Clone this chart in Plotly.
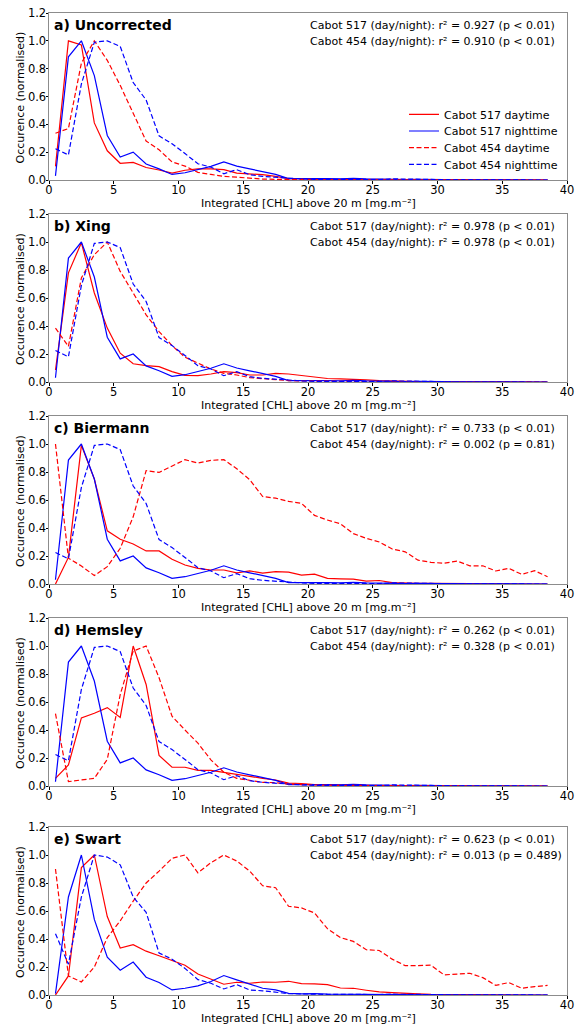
import plotly.graph_objects as go

# bin centres of integrated CHL (mg m-2)
chl_bins = [0.5 + i for i in range(39)]

# ---- nighttime profiles (not corrected) ----
night517 = [0.03, 0.885, 1.0, 0.75, 0.32, 0.165, 0.20, 0.115, 0.08, 0.04, 0.052, 0.074, 0.098, 0.13, 0.10,
            0.08, 0.06, 0.04, 0.01, 0.01, 0.015, 0.01, 0.008, 0.012, 0.008, 0.005, 0.004, 0.003, 0.005, 0.003,
            0.002, 0.001, 0.001, 0.001, 0.0, 0.0, 0.0, 0.0, 0.0]
night454 = [0.225, 0.18, 0.69, 0.99, 1.0, 0.96, 0.70, 0.575, 0.317, 0.26, 0.19, 0.117, 0.093, 0.045, 0.074,
            0.038, 0.026, 0.02, 0.01, 0.008, 0.005, 0.004, 0.006, 0.003, 0.005, 0.003, 0.008, 0.005, 0.003, 0.004,
            0.002, 0.001, 0.001, 0.0, 0.0, 0.0, 0.0, 0.0, 0.0]
night517_swart = [0.01, 0.70, 1.0, 0.54, 0.27, 0.177, 0.235, 0.127, 0.089, 0.036, 0.048, 0.065, 0.096, 0.139, 0.108,
                  0.079, 0.048, 0.036, 0.012, 0.008, 0.01, 0.006, 0.005, 0.006, 0.004, 0.003, 0.002, 0.002, 0.001, 0.001,
                  0.001, 0.0, 0.0, 0.0, 0.0, 0.0, 0.0, 0.0, 0.0]
night454_swart = [0.438, 0.22, 0.70, 1.0, 0.985, 0.93, 0.70, 0.59, 0.30, 0.256, 0.19, 0.11, 0.084, 0.043, 0.074,
                  0.036, 0.03, 0.02, 0.01, 0.008, 0.005, 0.004, 0.005, 0.003, 0.004, 0.003, 0.006, 0.004, 0.003, 0.003,
                  0.002, 0.001, 0.001, 0.0, 0.0, 0.0, 0.0, 0.0, 0.0]

# ---- daytime profiles per correction method ----
day517_uncorr = [0.098, 1.0, 0.97, 0.41, 0.21, 0.12, 0.126, 0.09, 0.072, 0.05, 0.07, 0.08, 0.08, 0.074, 0.05,
                 0.045, 0.038, 0.026, 0.01, 0.01, 0.006, 0.005, 0.004, 0.004, 0.003, 0.002, 0.002, 0.001, 0.001, 0.001,
                 0.0, 0.0, 0.0, 0.0, 0.0, 0.0, 0.0, 0.0, 0.0]
day454_uncorr = [0.336, 0.37, 0.84, 1.0, 0.86, 0.68, 0.48, 0.28, 0.217, 0.13, 0.10, 0.055, 0.04, 0.026, 0.02,
                 0.012, 0.007, 0.005, 0.004, 0.003, 0.003, 0.002, 0.002, 0.002, 0.001, 0.001, 0.001, 0.001, 0.0, 0.0,
                 0.0, 0.0, 0.0, 0.0, 0.0, 0.0, 0.0, 0.0, 0.0]
day517_xing = [0.086, 0.78, 0.995, 0.636, 0.385, 0.206, 0.13, 0.117, 0.11, 0.074, 0.048, 0.045, 0.057, 0.074, 0.067,
               0.05, 0.05, 0.062, 0.057, 0.045, 0.035, 0.025, 0.022, 0.02, 0.015, 0.01, 0.006, 0.004, 0.003, 0.002,
               0.002, 0.001, 0.001, 0.0, 0.0, 0.0, 0.0, 0.0, 0.0]
day454_xing = [0.385, 0.254, 0.744, 0.91, 1.0, 0.79, 0.636, 0.48, 0.36, 0.26, 0.177, 0.134, 0.093, 0.062, 0.05,
               0.031, 0.024, 0.014, 0.01, 0.008, 0.006, 0.005, 0.004, 0.004, 0.003, 0.002, 0.002, 0.001, 0.001, 0.001,
               0.0, 0.0, 0.0, 0.0, 0.0, 0.0, 0.0, 0.0, 0.0]
day517_biermann = [0.0, 0.19, 0.99, 0.75, 0.38, 0.32, 0.286, 0.236, 0.236, 0.177, 0.136, 0.112, 0.10, 0.10, 0.08,
                   0.093, 0.078, 0.088, 0.085, 0.064, 0.07, 0.04, 0.037, 0.035, 0.02, 0.025, 0.01, 0.006, 0.005, 0.004,
                   0.003, 0.002, 0.002, 0.001, 0.001, 0.0, 0.0, 0.0, 0.0]
day454_biermann = [1.0, 0.184, 0.129, 0.06, 0.124, 0.255, 0.48, 0.81, 0.797, 0.84, 0.888, 0.864, 0.883, 0.888, 0.823,
                   0.745, 0.625, 0.613, 0.59, 0.576, 0.49, 0.457, 0.43, 0.36, 0.326, 0.30, 0.25, 0.23, 0.17, 0.155,
                   0.148, 0.164, 0.13, 0.13, 0.093, 0.112, 0.069, 0.095, 0.052]
day517_hemsley = [0.055, 0.15, 0.486, 0.52, 0.56, 0.49, 1.0, 0.725, 0.218, 0.134, 0.134, 0.112, 0.112, 0.098, 0.079,
                  0.067, 0.055, 0.043, 0.02, 0.018, 0.01, 0.008, 0.006, 0.005, 0.004, 0.003, 0.002, 0.002, 0.001, 0.001,
                  0.0, 0.0, 0.0, 0.0, 0.0, 0.0, 0.0, 0.0, 0.0]
day454_hemsley = [0.517, 0.031, 0.043, 0.055, 0.19, 0.653, 0.964, 1.0, 0.773, 0.498, 0.40, 0.306, 0.187, 0.098, 0.055,
                  0.038, 0.026, 0.024, 0.014, 0.01, 0.007, 0.005, 0.004, 0.004, 0.003, 0.003, 0.002, 0.002, 0.001, 0.001,
                  0.001, 0.0, 0.0, 0.0, 0.0, 0.0, 0.0, 0.0, 0.0]
day517_swart = [0.0, 0.136, 0.91, 1.0, 0.56, 0.335, 0.36, 0.313, 0.28, 0.246, 0.213, 0.15, 0.112, 0.077, 0.091,
                0.084, 0.093, 0.091, 0.098, 0.081, 0.079, 0.074, 0.05, 0.048, 0.034, 0.022, 0.017, 0.01, 0.008, 0.005,
                0.004, 0.003, 0.003, 0.002, 0.002, 0.001, 0.001, 0.001, 0.0]
day454_swart = [0.90, 0.136, 0.093, 0.20, 0.41, 0.53, 0.67, 0.80, 0.885, 0.976, 1.0, 0.873, 0.945, 1.0, 0.957,
                0.885, 0.78, 0.766, 0.634, 0.622, 0.586, 0.474, 0.41, 0.383, 0.323, 0.318, 0.256, 0.21, 0.21, 0.213,
                0.144, 0.148, 0.155, 0.124, 0.069, 0.089, 0.048, 0.06, 0.069]

panel_titles = ["a) Uncorrected", "b) Xing", "c) Biermann", "d) Hemsley", "e) Swart"]
stats_517 = ["0.927 (p &lt; 0.01)", "0.978 (p &lt; 0.01)", "0.733 (p &lt; 0.01)", "0.262 (p &lt; 0.01)", "0.623 (p &lt; 0.01)"]
stats_454 = ["0.910 (p &lt; 0.01)", "0.978 (p &lt; 0.01)", "0.002 (p = 0.81)", "0.328 (p &lt; 0.01)", "0.013 (p = 0.489)"]
series_names = ["Cabot 517 daytime", "Cabot 517 nighttime", "Cabot 454 daytime", "Cabot 454 nighttime"]
x_title = "Integrated [CHL] above 20 m [mg.m\u207b\u00b2]"
y_title = "Occurence (normalised)"
x_ticks = [0, 5, 10, 15, 20, 25, 30, 35, 40]
y_ticks = [0, 0.2, 0.4, 0.6, 0.8, 1.0, 1.2]
y_ticktext = ["0.0", "0.2", "0.4", "0.6", "0.8", "1.0", "1.2"]

panels = [
    (day517_uncorr, night517, day454_uncorr, night454),
    (day517_xing, night517, day454_xing, night454),
    (day517_biermann, night517, day454_biermann, night454),
    (day517_hemsley, night517, day454_hemsley, night454),
    (day517_swart, night517_swart, day454_swart, night454_swart),
]

W, H = 576, 1028
panel_px = [(13, 180), (214, 382), (416, 584), (618, 786), (827, 995)]
x_left, x_right = 49, 567
legend_rows_px = [114.3, 131.0, 147.7, 164.3]

def px_x(p):
    return p / W

def px_y(p):
    return 1 - p / H

colors = ["#ff0000", "#0000ff", "#ff0000", "#0000ff"]
dashes = ["solid", "solid", "5px,2.5px", "5px,2.5px"]
legend_ids = ["legend", "legend2", "legend3", "legend4"]

fig = go.Figure()
font_family = "DejaVu Sans"
annotations = []
layout_axes = {}

for i, series in enumerate(panels):
    k = "" if i == 0 else str(i + 1)
    for j, vals in enumerate(series):
        fig.add_trace(go.Scatter(
            x=chl_bins, y=vals, mode="lines",
            line=dict(color=colors[j], width=1.2, dash=dashes[j]),
            name=series_names[j], showlegend=(i == 0), legend=legend_ids[j],
            xaxis="x" + k, yaxis="y" + k,
        ))
    top, bot = panel_px[i]
    layout_axes["xaxis" + k] = dict(
        domain=[px_x(x_left), px_x(x_right)], range=[0, 40], anchor="y" + k,
        tickmode="array", tickvals=x_ticks, automargin=False,
        ticks="outside", ticklen=2.5, tickwidth=1, tickcolor="#000",
        ticklabelstandoff=-3, ticklabeloverflow="allow",
        showline=True, linecolor="#8c8c8c", linewidth=1, mirror=True,
        showgrid=False, zeroline=False,
        tickfont=dict(size=11.5, color="#000", family=font_family),
    )
    layout_axes["yaxis" + k] = dict(
        domain=[px_y(bot), px_y(top)], range=[0, 1.2], anchor="x" + k, automargin=False,
        tickmode="array", tickvals=y_ticks, ticktext=y_ticktext,
        ticks="outside", ticklen=2.5, tickwidth=1, tickcolor="#000",
        ticklabelstandoff=-3, ticklabeloverflow="allow",
        showline=True, linecolor="#8c8c8c", linewidth=1, mirror=True,
        showgrid=False, zeroline=False,
        tickfont=dict(size=11.5, color="#000", family=font_family),
    )
    # axis titles
    annotations.append(dict(
        xref="paper", yref="paper", x=px_x((x_left + x_right) / 2), y=px_y(bot + 23.5),
        xanchor="center", yanchor="middle", showarrow=False, text=x_title,
        font=dict(size=11, color="#000", family=font_family), borderpad=0,
    ))
    annotations.append(dict(
        xref="paper", yref="paper", x=px_x(20), y=px_y((top + bot) / 2 + 1),
        xanchor="center", yanchor="middle", showarrow=False, text=y_title, textangle=-90,
        font=dict(size=11, color="#000", family=font_family), borderpad=0,
    ))
    # panel label
    annotations.append(dict(
        xref="paper", yref="paper", x=px_x(52), y=px_y(top + 11.5),
        xanchor="left", yanchor="middle", showarrow=False,
        text="<b>" + panel_titles[i] + "</b>",
        font=dict(size=14, color="#000", family=font_family),
    ))
    # statistics text
    annotations.append(dict(
        xref="paper", yref="paper", x=px_x(308), y=px_y(top + 12),
        xanchor="left", yanchor="middle", showarrow=False,
        text="Cabot 517 (day/night): r\u00b2 = " + stats_517[i],
        font=dict(size=11, color="#000", family=font_family),
    ))
    annotations.append(dict(
        xref="paper", yref="paper", x=px_x(308), y=px_y(top + 28.7),
        xanchor="left", yanchor="middle", showarrow=False,
        text="Cabot 454 (day/night): r\u00b2 = " + stats_454[i],
        font=dict(size=11, color="#000", family=font_family),
    ))

legends = {}
for lid, row in zip(legend_ids, legend_rows_px):
    legends[lid] = dict(x=px_x(404), y=px_y(row), xanchor="left", yanchor="middle",
                        bgcolor="rgba(255,255,255,0)", borderwidth=0,
                        font=dict(size=11, color="#000", family=font_family),
                        itemwidth=30)

fig.update_layout(
    width=W, height=H,
    margin=dict(l=0, r=0, t=0, b=0, autoexpand=False),
    paper_bgcolor="white", plot_bgcolor="white",
    font=dict(family=font_family, size=11, color="#000"),
    annotations=annotations,
    **legends,
    **layout_axes,
)

# remove the default page margin so the figure fills the 576x1028 window exactly
fig.write_html("out.html", config={"displayModeBar": False},
               post_script="document.body.style.margin='0';")
